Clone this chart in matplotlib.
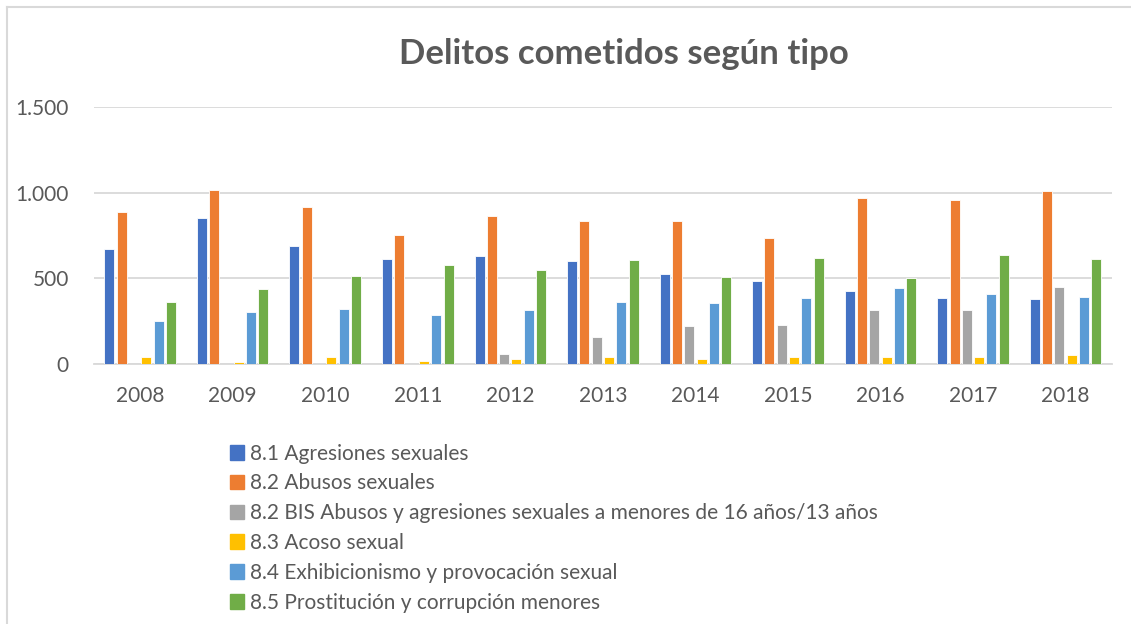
import matplotlib.pyplot as plt
import numpy as np
from matplotlib.lines import Line2D

years = ['2008', '2009', '2010', '2011', '2012', '2013', '2014', '2015', '2016', '2017', '2018']

agresiones = [671, 850, 691, 615, 629, 603, 525, 487, 426, 385, 381]
abusos = [889, 1016, 918, 755, 862, 837, 837, 738, 967, 955, 1012]
bis_menores = [0, 0, 0, 0, 56, 158, 222, 226, 315, 317, 450]
acoso = [38, 9, 38, 17, 31, 41, 27, 38, 41, 39, 54]
exhibicionismo = [253, 302, 321, 286, 315, 364, 356, 387, 446, 411, 391]
prostitucion = [364, 438, 514, 578, 547, 607, 508, 621, 504, 638, 613]

series_names = [
    '8.1 Agresiones sexuales',
    '8.2 Abusos sexuales',
    '8.2 BIS Abusos y agresiones sexuales a menores de 16 años/13 años',
    '8.3 Acoso sexual',
    '8.4 Exhibicionismo y provocación sexual',
    '8.5 Prostitución y corrupción menores',
]
colors = ['#4472C4', '#ED7D31', '#A5A5A5', '#FFC000', '#5B9BD5', '#70AD47']

plt.rcParams['font.family'] = ['Lato', 'DejaVu Sans']
text_color = '#595959'

fig = plt.figure(figsize=(11.31, 6.24), dpi=100)
ax = fig.add_axes([0.083, 0.4167, 0.9, 0.4118])

data = [agresiones, abusos, bis_menores, acoso, exhibicionismo, prostitucion]
x = np.arange(len(years))
slot = 0.133
width = 0.108
for i, (vals, c) in enumerate(zip(data, colors)):
    ax.bar(x + (i - 2.5) * slot, vals, width=width, color=c,
           edgecolor='white', linewidth=0.6, zorder=3)

ax.set_xlim(-0.5, len(years) - 0.5)
ax.set_ylim(0, 1500)
ax.set_yticks([0, 500, 1000, 1500])
ax.set_yticklabels(['0', '500', '1.000', '1.500'])
ax.set_xticks(x)
ax.set_xticklabels(years)
ax.yaxis.grid(True, color='#D9D9D9', linewidth=1.3, zorder=0)
ax.set_axisbelow(True)
for s in ['top', 'right', 'left']:
    ax.spines[s].set_visible(False)
ax.spines['bottom'].set_color('#D9D9D9')
ax.spines['bottom'].set_linewidth(1.3)
ax.tick_params(axis='both', length=0, labelsize=15, colors=text_color)
ax.tick_params(axis='y', pad=18)
ax.tick_params(axis='x', pad=16)

fig.text(0.552, 0.913, 'Delitos cometidos según tipo', ha='center', va='center',
         fontsize=25, fontweight='bold', color=text_color)

handles = [plt.Rectangle((0, 0), 1, 1, color=c) for c in colors]
leg = fig.legend(handles, series_names, loc='upper left', bbox_to_anchor=(0.203, 0.289),
                 frameon=False, fontsize=15, handlelength=0.7, handleheight=0.7,
                 handletextpad=0.3, labelspacing=0.47, borderpad=0, borderaxespad=0)
for t in leg.get_texts():
    t.set_color(text_color)

# chart border (left and top edges visible)
fig.add_artist(Line2D([7 / 1131, 7 / 1131], [0, 1 - 7 / 624], color='#D9D9D9', linewidth=1.5))
fig.add_artist(Line2D([7 / 1131, 1], [1 - 7 / 624, 1 - 7 / 624], color='#D9D9D9', linewidth=1.5))

fig.savefig('out.png', dpi=100)
